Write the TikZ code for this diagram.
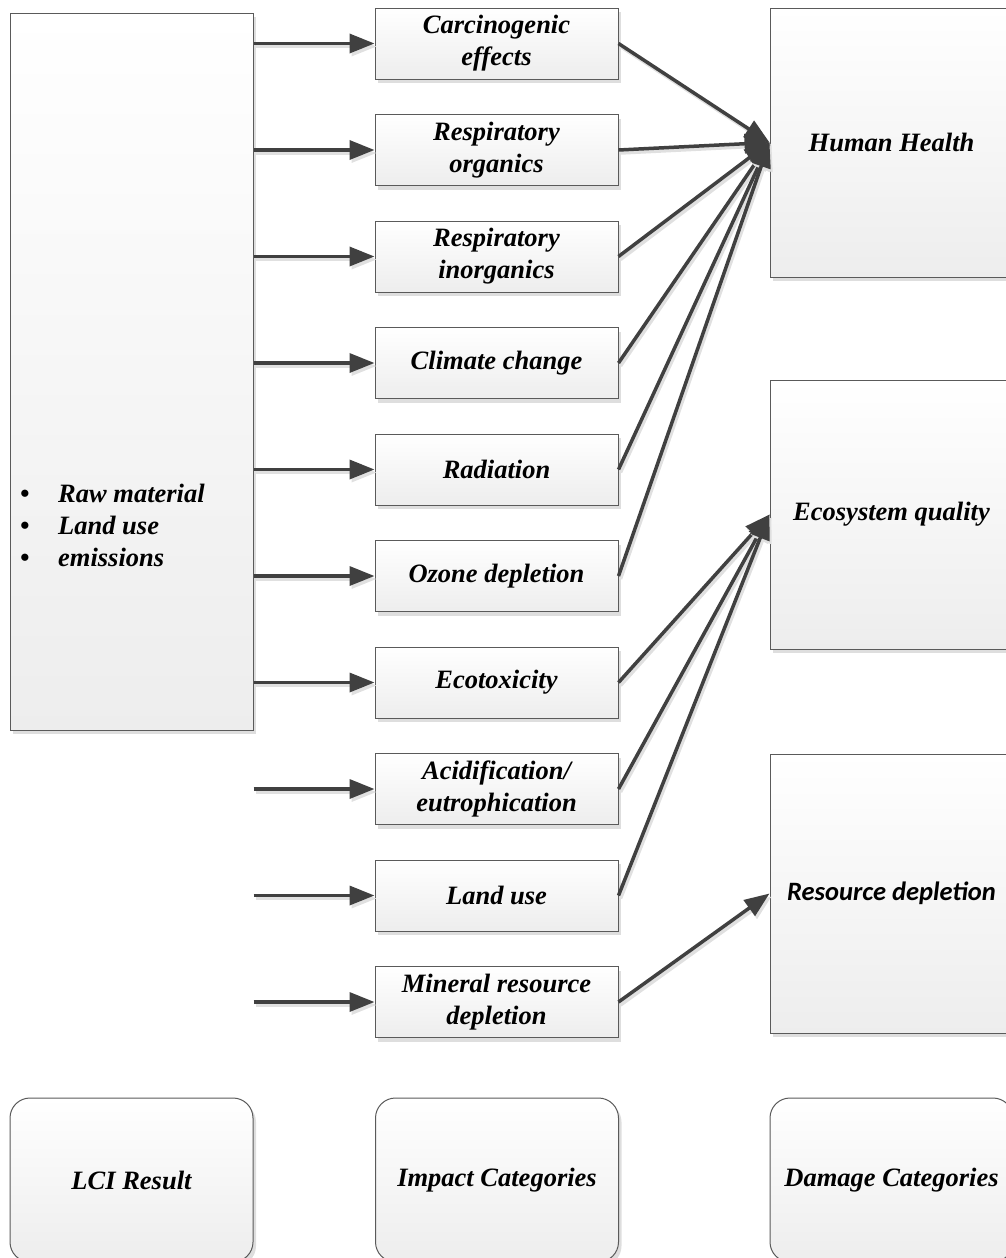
\documentclass[tikz,border=0pt]{standalone}
\usepackage{fontspec}
\setmainfont{Liberation Serif}
\newfontfamily\carlitofont{Carlito}
\usetikzlibrary{arrows.meta,shadows}
\definecolor{edgec}{HTML}{5A5A5A}
\definecolor{arrowc}{HTML}{404040}
\begin{document}
\begin{tikzpicture}[x=1pt,y=-1pt,
  font=\fontsize{26.5}{32}\selectfont\bfseries\itshape,
  box/.style={draw=edgec, line width=1pt, top color=white, bottom color=black!7,
    drop shadow={shadow xshift=3pt, shadow yshift=-4pt, fill=black!13, opacity=1},
    inner sep=0pt, align=center},
  imp/.style={box, minimum width=243pt, minimum height=71pt},
  dmg/.style={box, minimum width=243pt},
  cat/.style={box, rounded corners=20pt, minimum width=243pt, minimum height=164pt},
  link/.style={draw=arrowc, line width=3.5pt, -{Triangle[length=25pt,width=19pt]},
    preaction={draw=black!12, line width=3.5pt, -{Triangle[length=25pt,width=19pt]},
      transform canvas={shift={(2pt,-3pt)}}}},
  item/.style={anchor=base west, inner sep=0pt}
]
\useasboundingbox (0,0) rectangle (1006,1258);
\clip (0,0) rectangle (1006,1258);

% LCI result column
\node[box, minimum width=243pt, minimum height=717pt] (lci) at (131.5,371.5) {};
\node[item] (b1) at (20,502) {\makebox[38pt][l]{\textbullet}Raw material};
\node[item] (b2) at (20,534) {\makebox[38pt][l]{\textbullet}Land use};
\node[item] (b3) at (20,566) {\makebox[38pt][l]{\textbullet}emissions};

% impact categories
\node[imp] (i1) at (496.5,43.5) {Carcinogenic\\effects};
\node[imp] (i2) at (496.5,150) {Respiratory\\organics};
\node[imp] (i3) at (496.5,256.5) {Respiratory\\inorganics};
\node[imp] (i4) at (496.5,363) {Climate change};
\node[imp] (i5) at (496.5,469.5) {Radiation};
\node[imp] (i6) at (496.5,576) {Ozone depletion};
\node[imp] (i7) at (496.5,682.5) {Ecotoxicity};
\node[imp] (i8) at (496.5,789) {Acidification/\\eutrophication};
\node[imp] (i9) at (496.5,895.5) {Land use};
\node[imp] (i10) at (496.5,1002) {Mineral resource\\depletion};

% damage categories
\node[dmg, minimum height=269pt] (hh) at (891.5,142.5) {Human Health};
\node[dmg, minimum height=269pt] (eq) at (891.5,514.5) {Ecosystem quality};
\node[dmg, minimum height=279pt] (rd) at (891.5,893.5) {\carlitofont\bfseries\itshape Resource depletion};

% column captions
\node[cat] (c1) at (131.5,1180) {LCI Result};
\node[cat] (c2) at (497,1180) {Impact Categories};
\node[cat] (c3) at (891.5,1180) {Damage Categories};

% inventory to impact
\foreach \i in {1,...,10}
  \draw[link] (lci.east |- i\i.west) -- (i\i.west);

% impact to damage
\foreach \i in {1,...,6}
  \draw[link] (i\i.east) -- (hh.west);
\foreach \i in {7,8,9}
  \draw[link] (i\i.east) -- (eq.west);
\draw[link] (i10.east) -- (rd.west);
\end{tikzpicture}
\end{document}
